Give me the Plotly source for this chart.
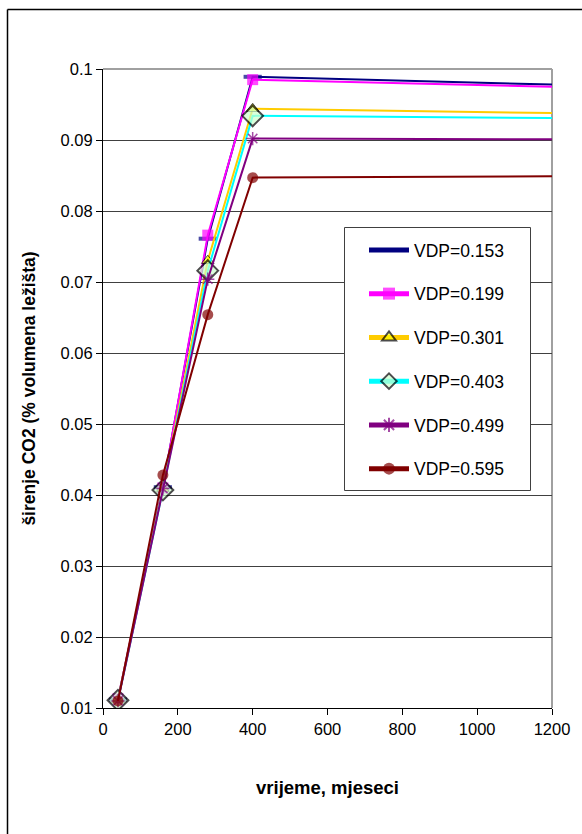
import plotly.graph_objects as go

# ---- data ----
months = [40, 160, 280, 400, 1200]
series_names = ["VDP=0.153", "VDP=0.199", "VDP=0.301", "VDP=0.403", "VDP=0.499", "VDP=0.595"]
vdp_0153 = [0.0112, 0.0411, 0.0761, 0.0989, 0.0978]
vdp_0199 = [0.0113, 0.0410, 0.0766, 0.0985, 0.0975]
vdp_0301 = [0.0112, 0.0409, 0.0730, 0.0944, 0.0938]
vdp_0403 = [0.0111, 0.0407, 0.0716, 0.0934, 0.0931]
vdp_0499 = [0.0110, 0.0409, 0.0704, 0.0902, 0.0901]
vdp_0595 = [0.0110, 0.0428, 0.0654, 0.0847, 0.0849]
y_ticks = [0.01, 0.02, 0.03, 0.04, 0.05, 0.06, 0.07, 0.08, 0.09, 0.1]
y_tick_labels = ["0.01", "0.02", "0.03", "0.04", "0.05", "0.06", "0.07", "0.08", "0.09", "0.1"]
x_ticks = [0, 200, 400, 600, 800, 1000, 1200]

all_values = [vdp_0153, vdp_0199, vdp_0301, vdp_0403, vdp_0499, vdp_0595]

styles = [
    dict(color="#000080", symbol="line-ew", size=13, mcolor="#000080", mline="#000080", mlw=4),
    dict(color="#FF00FF", symbol="square", size=11, mcolor="#FF00FF", mline="#FF00FF", mlw=0),
    dict(color="#FFCC00", symbol="triangle-up", size=11, mcolor="#FFFF00", mline="#000000", mlw=1),
    dict(color="#00FFFF", symbol="diamond", size=16, mcolor="#CCFFCC", mline="#000000", mlw=2),
    dict(color="#800080", symbol="asterisk", size=11, mcolor="#800080", mline="#800080", mlw=1.5),
    dict(color="#800000", symbol="circle", size=11, mcolor="#800000", mline="#800000", mlw=0),
]

FONT = "Liberation Sans, Arial, sans-serif"

fig = go.Figure()
for name, vals, st in zip(series_names, all_values, styles):
    sizes = [st["size"]] * (len(months) - 1) + [0]
    fig.add_trace(go.Scatter(
        x=months, y=vals, name=name, mode="lines+markers",
        legendgroup=name,
        line=dict(color=st["color"], width=2),
        marker=dict(symbol=st["symbol"], size=sizes, color=st["mcolor"],
                    line=dict(color=st["mline"], width=st["mlw"])),
    ))

L, R, T, B = 103, 30, 69, 126
W, H = 582, 834
pw, ph = W - L - R, H - T - B

def px_x(px):
    return (px - L) / pw

def px_y(py):
    return (H - B - py) / ph

fig.update_layout(
    width=W, height=H,
    margin=dict(l=L, r=R, t=T, b=B, autoexpand=False),
    paper_bgcolor="white", plot_bgcolor="white",
    font=dict(family=FONT, size=16, color="black"),
    showlegend=True,
    legend=dict(
        x=px_x(344), y=px_y(232), xanchor="left", yanchor="top",
        bgcolor="rgba(0,0,0,0)", borderwidth=0,
        font=dict(family=FONT, size=17.5, color="black"),
        itemsizing="constant", itemwidth=40,
        tracegroupgap=18, traceorder="grouped",
        indentation=20,
    ),
    xaxis=dict(
        range=[0, 1200], tickvals=x_ticks, showgrid=False, zeroline=False,
        showline=True, linecolor="black", linewidth=1,
        ticks="outside", ticklen=6, tickcolor="black",
        tickfont=dict(size=16.5),
        title=dict(text="<b>vrijeme, mjeseci</b>", font=dict(size=18.5), standoff=44),
    ),
    yaxis=dict(
        range=[0.01, 0.1], tickvals=y_ticks, ticktext=y_tick_labels,
        showgrid=True, gridcolor="#404040", gridwidth=1, zeroline=False,
        showline=True, linecolor="black", linewidth=1,
        ticks="outside", ticklen=6, tickcolor="black",
        tickfont=dict(size=16.5),
        title=dict(text="<b>širenje CO2 (% volumena ležišta)</b>", font=dict(size=17.5), standoff=20),
    ),
    shapes=[
        # plot-area top and right borders (grey)
        dict(type="line", xref="paper", yref="paper", x0=0, x1=1, y0=1, y1=1,
             line=dict(color="#A0A0A0", width=2), layer="below"),
        dict(type="line", xref="paper", yref="paper", x0=1, x1=1, y0=0, y1=1,
             line=dict(color="#A0A0A0", width=2), layer="below"),
        # legend box
        dict(type="rect", xref="paper", yref="paper", x0=px_x(344.5), x1=px_x(530.5),
             y0=px_y(490.5), y1=px_y(227.5), fillcolor="white",
             line=dict(color="#404040", width=1), layer="above"),
        # chart-area outer border (left and top visible)
        dict(type="line", xref="paper", yref="paper", x0=px_x(7.5), x1=px_x(7.5),
             y0=px_y(840), y1=px_y(9.5), line=dict(color="black", width=1.5)),
        dict(type="line", xref="paper", yref="paper", x0=px_x(7.5), x1=px_x(590),
             y0=px_y(9.5), y1=px_y(9.5), line=dict(color="black", width=1.5)),
    ],
)

fig.write_html("out.html")
